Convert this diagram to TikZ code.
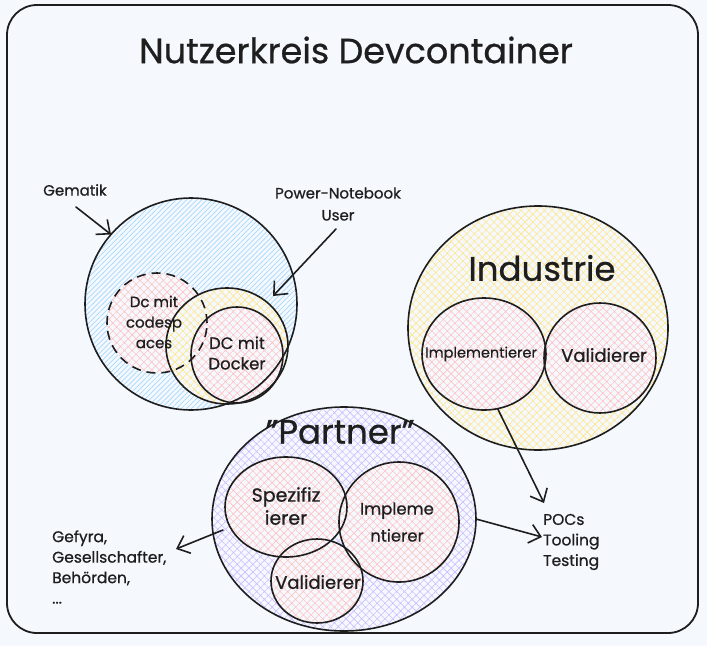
\documentclass[tikz,border=0pt]{standalone}
\usepackage{fontspec}
\setmainfont{Poppins}[UprightFeatures={FakeBold=0.7}]
\usetikzlibrary{patterns.meta,arrows.meta,shapes.geometric}
\definecolor{bg}{HTML}{F5F9FE}
\definecolor{ink}{HTML}{1E1E1E}
\definecolor{hblue}{HTML}{A5D8FF}
\definecolor{hyellow}{HTML}{FFE58A}
\definecolor{hpurple}{HTML}{CDBDFF}
\definecolor{hpink}{HTML}{FFC2C2}
\tikzset{
  ring/.style={ellipse, draw=ink, line width=1.6pt, inner sep=0pt, outer sep=0pt},
  lines/.style={pattern={Lines[angle=45,distance=3.6pt,line width=0.7pt]}, pattern color=#1},
  cross/.style={pattern={Hatch[angle=45,distance=5.5pt,line width=0.6pt]}, pattern color=#1},
  solidcross/.style={fill=bg, postaction={cross=#1}},
  arrow/.style={draw=ink, line width=1.6pt, line cap=round,
    -{Straight Barb[length=11pt,width=19pt,line width=1.6pt]}},
  lbl/.style={text=ink, align=center, inner sep=0pt, font=\fontsize{14}{21}\selectfont},
  side/.style={lbl, align=left, anchor=west, font=\fontsize{15.5}{20.5}\selectfont},
}
\begin{document}
\begin{tikzpicture}[x=1pt,y=-1pt]
\useasboundingbox (0,0) rectangle (707,646);
\fill[bg] (0,0) rectangle (707,646);
% canvas frame
\draw[ink, line width=1.8pt, rounded corners=30pt] (7,5) rectangle (698,633);

% hachure fills, outer groups first
\path[lines=hblue] (191,304) ellipse [x radius=106, y radius=106];
\path[cross=hyellow] (538,328) ellipse [x radius=130, y radius=122];
\path[cross=hpurple] (344,519) ellipse [x radius=132, y radius=112];
\path[solidcross=hpink] (157,323) ellipse [x radius=50, y radius=50];
\path[solidcross=hyellow] (227,346) ellipse [x radius=61, y radius=58];
\path[solidcross=hpink] (237,355) ellipse [x radius=46, y radius=48];
\path[solidcross=hpink] (484,354) ellipse [x radius=62, y radius=56];
\path[solidcross=hpink] (600,358) ellipse [x radius=56, y radius=55];
\path[solidcross=hpink] (286,507) ellipse [x radius=61, y radius=50];
\path[solidcross=hpink] (399,522) ellipse [x radius=60, y radius=60];
\path[solidcross=hpink] (317,581) ellipse [x radius=46, y radius=42];

% outlines
\node[ring, minimum width=212pt, minimum height=212pt] (gem) at (191,304) {};
\node[ring, dashed, dash pattern=on 9pt off 6pt, minimum width=100pt, minimum height=100pt] (codesp) at (157,323) {};
\node[ring, minimum width=122pt, minimum height=116pt] (pwr) at (227,346) {};
\node[ring, minimum width=92pt, minimum height=96pt] (docker) at (237,355) {};
\node[ring, minimum width=260pt, minimum height=244pt] (ind) at (538,328) {};
\node[ring, minimum width=124pt, minimum height=112pt] (indImpl) at (484,354) {};
\node[ring, minimum width=112pt, minimum height=110pt] (indVal) at (600,358) {};
\node[ring, minimum width=264pt, minimum height=224pt] (par) at (344,519) {};
\node[ring, minimum width=122pt, minimum height=100pt] (parSpez) at (286,507) {};
\node[ring, minimum width=120pt, minimum height=120pt] (parImpl) at (399,522) {};
\node[ring, minimum width=92pt, minimum height=84pt] (parVal) at (317,581) {};

% texts
\node[lbl, font=\fontsize{35}{40}\selectfont] (title) at (356,50) {Nutzerkreis Devcontainer};
\node[lbl, font=\fontsize{15}{21}\selectfont] (gemLbl) at (75,190) {Gematik};
\node[lbl, font=\fontsize{15}{22}\selectfont] (pwrLbl) at (338,204) {Power-Notebook\\User};
\node[lbl, font=\fontsize{15}{20.5}\selectfont] (codespLbl) at (154,322) {Dc mit\\codesp\\aces};
\node[lbl, font=\fontsize{16.5}{20.5}\selectfont] (dockerLbl) at (237,353) {DC mit\\Docker};
\node[lbl, font=\fontsize{34}{40}\selectfont] (indLbl) at (542,268) {Industrie};
\node[lbl, font=\fontsize{14.5}{20}\selectfont] (indImplLbl) at (481,354) {Implementierer};
\node[lbl, font=\fontsize{18}{20}\selectfont] (indValLbl) at (604,355) {Validierer};
\node[lbl, font=\fontsize{34}{40}\selectfont] (parLbl) at (340,432) {"Partner"};
\node[lbl, font=\fontsize{19}{23}\selectfont] (spezLbl) at (286,506) {Spezifiz\\ierer};
\node[lbl, font=\fontsize{16.5}{27}\selectfont] (parImplLbl) at (397,522) {Impleme\\ntierer};
\node[lbl, font=\fontsize{18}{20}\selectfont] (parValLbl) at (318,582) {Validierer};
\node[side] (others) at (52,567) {Gefyra,\\Gesellschafter,\\Behörden,\\...};
\node[side] (pocs) at (543,542) {POCs\\Tooling\\Testing};

% connectors
\coordinate (gemFrom) at (76,207);
\coordinate (pwrFrom) at (336,229);
\coordinate (pwrTip) at (273,296);
\coordinate (pocsTip1) at (544,503);
\coordinate (pocsTip2) at (542,537);
\coordinate (parFrom) at (223,530);
\coordinate (othersTip) at (176,549);
\draw[arrow] (gemFrom) -- (gem.139);
\draw[arrow] (pwrFrom) -- (pwrTip);
\draw[arrow] (indImpl.-76) -- (pocsTip1);
\draw[arrow] (par.east) -- (pocsTip2);
\draw[arrow] (parFrom) -- (othersTip);
\end{tikzpicture}
\end{document}
